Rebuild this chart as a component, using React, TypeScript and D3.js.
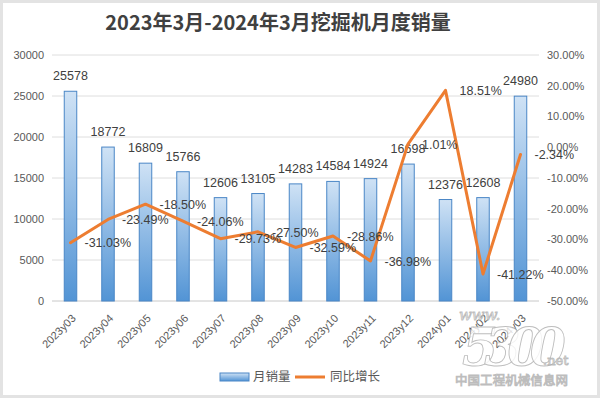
import React from 'react';
import * as d3 from 'd3';

const months = [
  '2023y03', '2023y04', '2023y05', '2023y06', '2023y07', '2023y08', '2023y09',
  '2023y10', '2023y11', '2023y12', '2024y01', '2024y02', '2024y03',
];
const sales = [25578, 18772, 16809, 15766, 12606, 13105, 14283, 14584, 14924, 16698, 12376, 12608, 24980];
const growth = [-31.03, -23.49, -18.5, -24.06, -29.73, -27.5, -32.59, -28.86, -36.98, 1.01, 18.51, -41.22, -2.34];
const salesTicks = [0, 5000, 10000, 15000, 20000, 25000, 30000];
const growthTicks = [-50, -40, -30, -20, -10, 0, 10, 20, 30];

const W = 600;
const H = 398;
const LABEL_FONT = '"Liberation Sans", Arial, sans-serif';
const CJK_FONT = '"Noto Sans CJK SC", sans-serif';

export default function App() {
  const x = d3.scaleBand<string>().domain(months).range([51.75, 539.25]).paddingInner(2 / 3).paddingOuter(1 / 3);
  const yLeft = d3.scaleLinear().domain([0, 30000]).range([301, 55]);
  const yRight = d3.scaleLinear().domain([-50, 30]).range([301, 55]);
  const cx = (m: string) => (x(m) as number) + x.bandwidth() / 2;

  const line = d3
    .line<number>()
    .x((_, i) => cx(months[i]))
    .y(d => yRight(d));

  return (
    <svg width={W} height={H} style={{ position: 'absolute', left: 0, top: 0, background: '#fff' }}>
      <defs>
        <linearGradient id="barGrad" x1="0" y1="0" x2="0" y2="1">
          <stop offset="0%" stopColor="#cfe2f5" />
          <stop offset="100%" stopColor="#5294d5" />
        </linearGradient>
      </defs>
      <rect x={1.5} y={1.5} width={W - 3} height={H - 3} fill="#fff" stroke="#e3e3e3" strokeWidth={3} />

      <text x={278} y={30} textAnchor="middle" fontFamily={CJK_FONT} fontWeight="bold" fontSize={20} fill="#404040">
        2023年3月-2024年3月挖掘机月度销量
      </text>

      {/* gridlines */}
      {salesTicks.map(t => (
        <line key={t} x1={52} x2={539} y1={yLeft(t)} y2={yLeft(t)} stroke={t === 0 ? '#c8c8c8' : '#dedede'} strokeWidth={1} />
      ))}

      {/* left axis */}
      {salesTicks.map(t => (
        <text key={t} x={44} y={yLeft(t)} dy="0.35em" textAnchor="end" fontFamily={LABEL_FONT} fontSize={11} fill="#595959">
          {t}
        </text>
      ))}

      {/* right axis */}
      {growthTicks.map(t => (
        <text key={t} x={547} y={yRight(t)} dy="0.35em" fontFamily={LABEL_FONT} fontSize={11} fill="#595959">
          {t.toFixed(2)}%
        </text>
      ))}

      {/* bars */}
      {sales.map((v, i) => (
        <rect
          key={months[i]}
          x={x(months[i])}
          y={yLeft(v)}
          width={x.bandwidth()}
          height={yLeft(0) - yLeft(v)}
          fill="url(#barGrad)"
          stroke="#4a86c6"
          strokeWidth={1}
        />
      ))}

      {/* bar labels */}
      {sales.map((v, i) => (
        <text key={months[i]} x={cx(months[i])} y={yLeft(v) - 11} textAnchor="middle" fontFamily={LABEL_FONT} fontSize={12.5} fill="#404040">
          {v}
        </text>
      ))}

      {/* growth line */}
      <path d={line(growth) || ''} fill="none" stroke="#ed7d31" strokeWidth={3} strokeLinejoin="round" strokeLinecap="round" />

      {growth.map((v, i) => (
        <text key={months[i]} x={cx(months[i]) + 14} y={yRight(v)} dy="0.38em" fontFamily={LABEL_FONT} fontSize={12.5} fill="#404040">
          {v.toFixed(2)}%
        </text>
      ))}

      {/* x labels */}
      {months.map(m => (
        <text
          key={m}
          transform={`translate(${cx(m) + 6},${319}) rotate(-45)`}
          textAnchor="end"
          fontFamily={LABEL_FONT}
          fontSize={11}
          fill="#595959"
        >
          {m}
        </text>
      ))}

      {/* legend */}
      <rect x={220} y={373} width={29} height={8} fill="url(#barGrad)" stroke="#4a86c6" strokeWidth={1} />
      <text x={253} y={377} dy="0.35em" fontFamily={CJK_FONT} fontSize={12.5} fill="#595959">月销量</text>
      <line x1={295} x2={325} y1={377} y2={377} stroke="#ed7d31" strokeWidth={3} />
      <text x={330} y={377} dy="0.35em" fontFamily={CJK_FONT} fontSize={12.5} fill="#595959">同比增长</text>

      {/* watermark */}
      <g fill="#ffffff" fillOpacity={0.8} stroke="#a8a8a8" strokeOpacity={0.75} strokeWidth={0.9}>
        <text x={459} y={320} fontFamily='"DejaVu Serif", serif' fontStyle="italic" fontSize={15}>www.</text>
        <text x={462} y={365} fontFamily='"DejaVu Serif", serif' fontStyle="italic" fontWeight="bold" fontSize={52} textLength={104}>5300</text>
        <text x={543} y={365} fontFamily='"DejaVu Serif", serif' fontSize={13}>.net</text>
        <text x={455} y={385} fontFamily={CJK_FONT} fontSize={12.5} textLength={113}>中国工程机械信息网</text>
      </g>
    </svg>
  );
}
